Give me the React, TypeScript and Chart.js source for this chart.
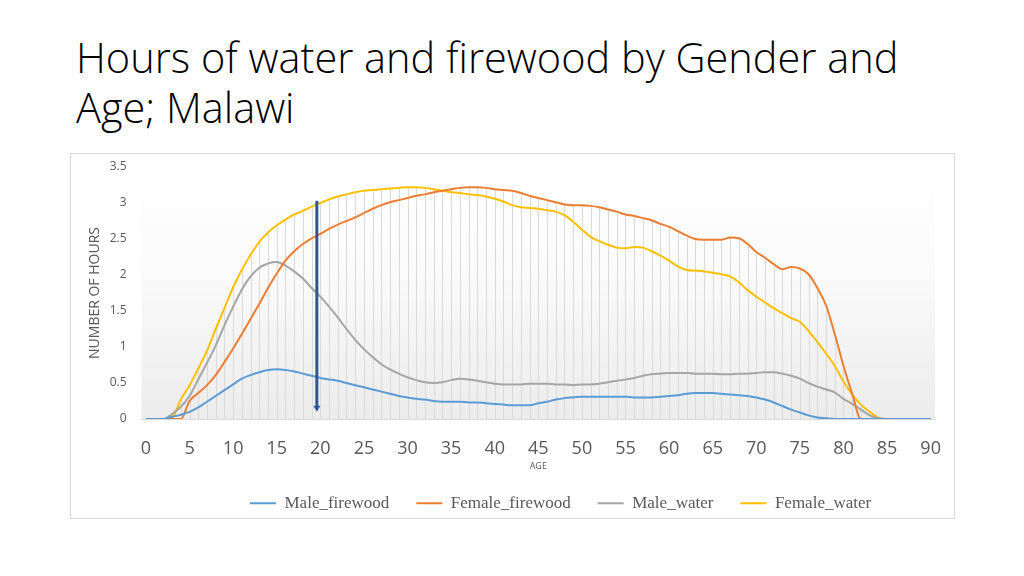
import { useEffect, useRef } from 'react';
import { Chart, registerables } from 'chart.js';

Chart.register(...registerables);

const AGES = [
  0, 1, 2, 3, 4, 5, 6, 7, 8, 9,
  10, 11, 12, 13, 14, 15, 16, 17, 18, 19,
  20, 21, 22, 23, 24, 25, 26, 27, 28, 29,
  30, 31, 32, 33, 34, 35, 36, 37, 38, 39,
  40, 41, 42, 43, 44, 45, 46, 47, 48, 49,
  50, 51, 52, 53, 54, 55, 56, 57, 58, 59,
  60, 61, 62, 63, 64, 65, 66, 67, 68, 69,
  70, 71, 72, 73, 74, 75, 76, 77, 78, 79,
  80, 81, 82, 83, 84, 85, 86, 87, 88, 89, 90,
];

const MALE_FIREWOOD = [
  0, 0, 0, 0.03, 0.06, 0.10, 0.16, 0.24, 0.32, 0.40,
  0.48, 0.56, 0.61, 0.65, 0.68, 0.69, 0.68, 0.66, 0.63, 0.60,
  0.57, 0.55, 0.53, 0.50, 0.47, 0.44, 0.41, 0.38, 0.35, 0.32,
  0.30, 0.28, 0.27, 0.25, 0.24, 0.24, 0.24, 0.23, 0.23, 0.22,
  0.21, 0.20, 0.19, 0.19, 0.19, 0.22, 0.24, 0.27, 0.29, 0.30,
  0.31, 0.31, 0.31, 0.31, 0.31, 0.31, 0.30, 0.30, 0.30, 0.31,
  0.32, 0.33, 0.35, 0.36, 0.36, 0.36, 0.35, 0.34, 0.33, 0.32,
  0.30, 0.27, 0.23, 0.18, 0.13, 0.09, 0.05, 0.02, 0.01, 0,
  0, 0, 0, 0, 0, 0, 0, 0, 0, 0, 0,
];

const FEMALE_FIREWOOD = [
  0, 0, 0, 0, 0, 0.25, 0.36, 0.47, 0.61, 0.79,
  0.98, 1.18, 1.39, 1.60, 1.82, 2.02, 2.20, 2.33, 2.43, 2.51,
  2.57, 2.64, 2.70, 2.75, 2.80, 2.86, 2.92, 2.97, 3.01, 3.04,
  3.07, 3.10, 3.12, 3.15, 3.17, 3.19, 3.21, 3.22, 3.22, 3.21,
  3.19, 3.18, 3.17, 3.14, 3.10, 3.07, 3.04, 3.01, 2.98, 2.97,
  2.97, 2.96, 2.94, 2.91, 2.88, 2.84, 2.82, 2.79, 2.76, 2.71,
  2.67, 2.61, 2.55, 2.50, 2.49, 2.49, 2.49, 2.52, 2.51, 2.43,
  2.32, 2.24, 2.15, 2.08, 2.11, 2.09, 2.01, 1.82, 1.58, 1.18,
  0.74, 0.35, 0, 0, 0, 0, 0, 0, 0, 0, 0,
];

const MALE_WATER = [
  0, 0, 0, 0.07, 0.17, 0.32, 0.55, 0.78, 1.02, 1.30,
  1.56, 1.80, 1.98, 2.10, 2.16, 2.18, 2.13, 2.05, 1.95, 1.82,
  1.70, 1.56, 1.41, 1.25, 1.10, 0.97, 0.86, 0.76, 0.69, 0.63,
  0.58, 0.54, 0.51, 0.50, 0.51, 0.54, 0.56, 0.55, 0.53, 0.51,
  0.49, 0.48, 0.48, 0.48, 0.49, 0.49, 0.49, 0.48, 0.48, 0.47,
  0.48, 0.48, 0.49, 0.51, 0.53, 0.55, 0.57, 0.60, 0.62, 0.63,
  0.64, 0.64, 0.64, 0.63, 0.63, 0.63, 0.62, 0.62, 0.63, 0.63,
  0.64, 0.65, 0.65, 0.63, 0.60, 0.56, 0.50, 0.45, 0.41, 0.37,
  0.28, 0.21, 0.13, 0.05, 0.01, 0, 0, 0, 0, 0, 0,
];

const FEMALE_WATER = [
  0, 0, 0, 0.02, 0.27, 0.47, 0.70, 0.95, 1.25, 1.54,
  1.83, 2.07, 2.28, 2.46, 2.59, 2.69, 2.77, 2.84, 2.89, 2.95,
  3.00, 3.05, 3.09, 3.12, 3.15, 3.17, 3.18, 3.19, 3.20, 3.21,
  3.22, 3.22, 3.21, 3.19, 3.17, 3.15, 3.14, 3.12, 3.11, 3.09,
  3.06, 3.02, 2.97, 2.94, 2.93, 2.92, 2.90, 2.88, 2.83, 2.74,
  2.63, 2.53, 2.47, 2.42, 2.38, 2.37, 2.39, 2.38, 2.33, 2.27,
  2.20, 2.12, 2.07, 2.06, 2.05, 2.03, 2.01, 1.98, 1.90, 1.79,
  1.70, 1.62, 1.54, 1.47, 1.40, 1.35, 1.22, 1.07, 0.91, 0.74,
  0.52, 0.34, 0.20, 0.10, 0.02, 0, 0, 0, 0, 0, 0,
];

const SERIES_LABELS = ['Male_firewood', 'Female_firewood', 'Male_water', 'Female_water'];
const SERIES_COLORS = ['#5B9BD5', '#ED7D31', '#A5A5A5', '#FFC000'];

const X_TICKS = [0, 5, 10, 15, 20, 25, 30, 35, 40, 45, 50, 55, 60, 65, 70, 75, 80, 85, 90];

// annotation arrow (age, from value, to value)
const ARROW_AGE = 19.6;
const ARROW_FROM = 3.03;
const ARROW_TO = 0.1;

const LEGEND_PAD = 27;
const LEGEND_FIRST_X = 179;
const LEGEND_TEXT_Y = 351;

const plotBg = {
  id: 'plotBg',
  beforeDraw(chart: any) {
    const { ctx, chartArea } = chart;
    const { left, right, top, bottom } = chartArea;
    const g = ctx.createLinearGradient(0, top, 0, bottom);
    g.addColorStop(0, '#ffffff');
    g.addColorStop(0.4, '#fbfbfb');
    g.addColorStop(1, '#ececec');
    ctx.save();
    ctx.fillStyle = g;
    ctx.fillRect(left, top, right - left, bottom - top);
    ctx.restore();
  },
};

const dropLines = {
  id: 'dropLines',
  beforeDatasetsDraw(chart: any) {
    const { ctx } = chart;
    const xs = chart.scales.x;
    const ys = chart.scales.y;
    const ds = chart.data.datasets;
    ctx.save();
    ctx.strokeStyle = '#dadada';
    ctx.lineWidth = 1;
    for (let i = 0; i < AGES.length; i++) {
      let max = 0;
      ds.forEach((d: any) => {
        const v = d.data[i].y;
        if (v > max) max = v;
      });
      if (max <= 0) continue;
      const px = Math.round(xs.getPixelForValue(AGES[i])) + 0.5;
      ctx.beginPath();
      ctx.moveTo(px, ys.getPixelForValue(max));
      ctx.lineTo(px, ys.getPixelForValue(0));
      ctx.stroke();
    }
    ctx.restore();
  },
};

const arrowPlugin = {
  id: 'arrow',
  afterDatasetsDraw(chart: any) {
    const { ctx } = chart;
    const x = chart.scales.x.getPixelForValue(ARROW_AGE);
    const y1 = chart.scales.y.getPixelForValue(ARROW_FROM);
    const y2 = chart.scales.y.getPixelForValue(ARROW_TO);
    ctx.save();
    ctx.strokeStyle = '#2F5597';
    ctx.fillStyle = '#2F5597';
    ctx.lineWidth = 3;
    ctx.beginPath();
    ctx.moveTo(x, y1);
    ctx.lineTo(x, y2 - 5);
    ctx.stroke();
    ctx.beginPath();
    ctx.moveTo(x - 3.5, y2 - 6);
    ctx.lineTo(x + 3.5, y2 - 6);
    ctx.lineTo(x, y2);
    ctx.closePath();
    ctx.fill();
    ctx.restore();
  },
};

const legendPlace = {
  id: 'legendPlace',
  afterLayout(chart: any) {
    const l = chart.legend;
    if (!l) return;
    const itemH = 17 * 1.2;
    l.left = LEGEND_FIRST_X - LEGEND_PAD;
    l.right = chart.width;
    l.top = LEGEND_TEXT_Y - LEGEND_PAD - itemH / 2;
    l.bottom = chart.height;
    l.width = l.right - l.left;
    l.height = l.bottom - l.top;
  },
};

export default function App() {
  const ref = useRef<HTMLCanvasElement | null>(null);

  useEffect(() => {
    if (!ref.current) return;
    const seriesValues = [MALE_FIREWOOD, FEMALE_FIREWOOD, MALE_WATER, FEMALE_WATER];
    const chart = new Chart(ref.current, {
      type: 'line',
      data: {
        datasets: seriesValues.map((vals, k) => ({
          label: SERIES_LABELS[k],
          data: vals.map((v, i) => ({ x: AGES[i], y: v })),
          borderColor: SERIES_COLORS[k],
          backgroundColor: SERIES_COLORS[k],
          borderWidth: 2,
          pointRadius: 0,
          fill: false,
          cubicInterpolationMode: 'monotone' as const,
        })),
      },
      options: {
        animation: false,
        responsive: false,
        events: [],
        layout: { padding: { top: 13, right: 19, bottom: 0, left: 0 } },
        scales: {
          x: {
            type: 'linear',
            min: -0.5,
            max: 90.5,
            afterBuildTicks: (s: any) => {
              s.ticks = X_TICKS.map((v) => ({ value: v }));
            },
            afterFit: (s: any) => {
              s.height = 60;
              s.paddingLeft = 0;
              s.paddingRight = 0;
            },
            grid: { display: false, drawTicks: false },
            border: { display: true, color: '#d9d9d9', width: 1 },
            ticks: {
              color: '#595959',
              font: { family: 'Open Sans', size: 18 },
              padding: 19,
              maxRotation: 0,
            },
            title: {
              display: true,
              text: 'AGE',
              color: '#595959',
              font: { family: 'Open Sans', size: 9 },
              padding: { top: 0, bottom: 7 },
            },
          },
          y: {
            min: 0,
            max: 3.5,
            afterFit: (s: any) => {
              s.width = 70.6;
              s.paddingTop = 0;
              s.paddingBottom = 0;
            },
            grid: { display: false, drawTicks: false },
            border: { display: false },
            ticks: {
              stepSize: 0.5,
              color: '#595959',
              font: { family: 'Open Sans', size: 12 },
              padding: 15,
              callback: (v: any) => String(v),
            },
            title: {
              display: true,
              text: 'NUMBER OF HOURS',
              color: '#595959',
              font: { family: 'Open Sans', size: 14 },
              padding: { top: 15.6, bottom: 0 },
            },
          },
        },
        plugins: {
          tooltip: { enabled: false },
          legend: {
            position: 'bottom',
            align: 'start',
            maxHeight: 39,
            labels: {
              usePointStyle: true,
              pointStyle: 'line',
              pointStyleWidth: 26,
              padding: LEGEND_PAD,
              color: '#595959',
              font: { family: 'Liberation Serif', size: 17 },
            },
          },
        },
      },
      plugins: [plotBg, dropLines, arrowPlugin, legendPlace],
    } as any);
    return () => chart.destroy();
  }, []);

  return (
    <div>
      <div
        style={{
          position: 'absolute',
          left: 76,
          top: 32,
          fontFamily: 'Open Sans',
          fontWeight: 300,
          fontSize: 41.5,
          lineHeight: '50px',
          color: '#000',
          whiteSpace: 'nowrap',
        }}
      >
        Hours of water and firewood by Gender and
        <br />
        Age; Malawi
      </div>
      <div
        style={{
          position: 'absolute',
          left: 70,
          top: 153,
          width: 883,
          height: 364,
          border: '1px solid #d9d9d9',
          background: '#fff',
        }}
      >
        <canvas ref={ref} width={883} height={364} style={{ display: 'block' }} />
      </div>
    </div>
  );
}
